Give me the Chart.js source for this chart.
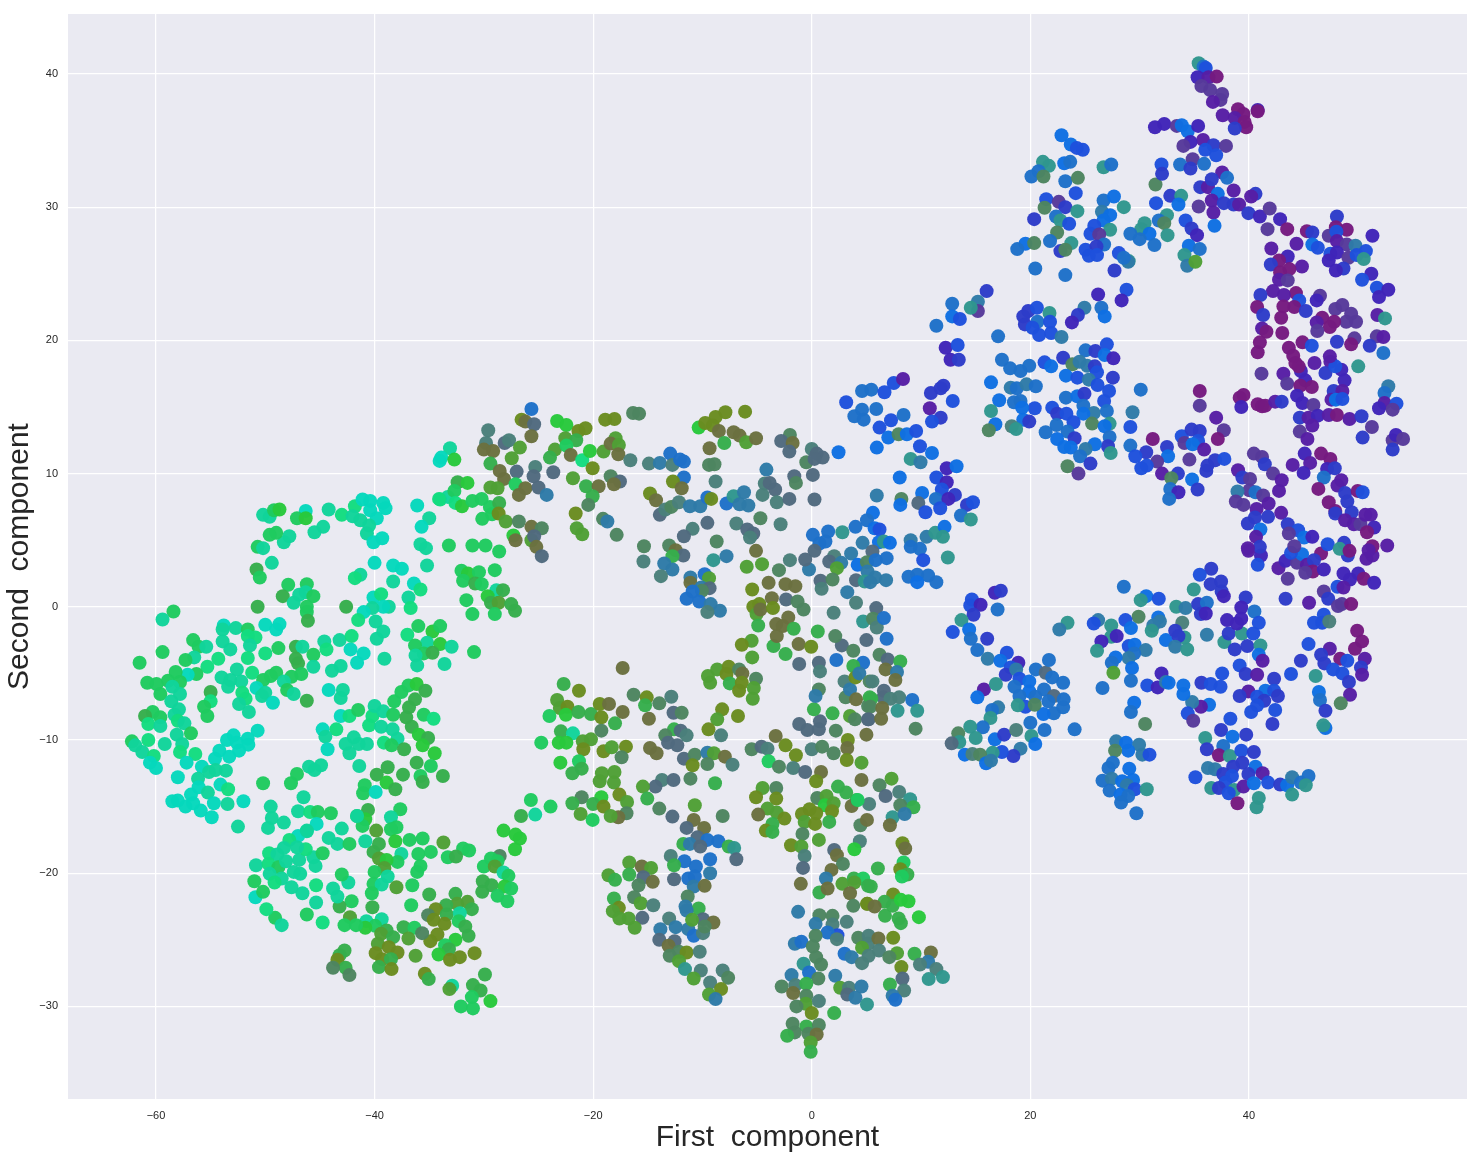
<!DOCTYPE html>
<html>
<head>
<meta charset="utf-8">
<title>t-SNE components</title>
<script src="https://cdn.jsdelivr.net/npm/chart.js@4"></script>
<style>
    html, body { margin: 0; padding: 0; background: #fff; }
    canvas { display: block; }
</style>
</head>
<body>
<canvas id="scatter" width="1481" height="1159"></canvas>
<script>
// class colours, each point below is [first, second, class]
const hues = ['#05d8bc', '#10d49a', '#12dc80', '#1fcb5f', '#28c83c', '#35ae4c', '#4f9f35', '#6a8c20', '#6b7040', '#4d8560',
    '#4a7f7a', '#506a7e', '#2e7aa8', '#0e6fe2', '#1e50dc', '#2d3cc8', '#4024b8', '#561ea5', '#751a80', '#2f968e', '#563a9a', '#1e70c8']

const xTicks = [-60, -40, -20, 0, 20, 40]
const yTicks = [-30, -20, -10, 0, 10, 20, 30, 40]

const farWest = [
    [-50.2,6.9,1],[-49.6,6.75,1],[-49.2,7.25,3],[-48.7,7.3,4],[-46.3,7.2,0],[-47.1,6.65,3],[-46.3,6.65,4],[-44.2,7.3,1],[-43,6.9,2],[-41.8,7.55,2],
    [-42,6.8,1],[-41.3,6.5,1],[-41.1,8.05,0],[-40.4,7.95,0],[-39.2,7.8,0],[-39,7.4,0],[-40.4,7.25,0],[-39.8,6.65,0],[-40.5,6.1,1],[-40.7,5.5,1],
    [-39.3,5.15,0],[-40.1,4.85,0],[-36.1,7.6,0],[-35,6.65,1],[-35.7,6,0],[-34,8.05,2],[-33.3,8.25,1],[-44.7,6,1],[-45.5,5.6,1],[-47.8,5.3,1],
    [-48.3,4.85,1],[-49,5.55,3],[-49.6,5.4,3],[-50.7,4.5,3],[-50.2,4.4,1],[-35.8,4.7,1],[-35.3,4.4,1],[-33.2,4.6,3],[-49.4,3.3,1],[-50.8,2.8,5],
    [-50.5,2.2,3],[-40,3.3,0],[-38.3,3.1,0],[-37.5,2.85,0],[-35.2,3.1,1],[-41.3,2.4,1],[-41.8,2.15,2],[-38.3,1.9,1],[-36.4,1.75,0],[-35.8,1.3,2],
    [-47.9,1.65,3],[-46.2,1.7,3],[-46.3,1.1,1],[-45.6,0.8,3],[-46.9,0.9,1],[-48.4,0.8,5],[-47.4,0.3,1],[-50.7,0,5],[-46.2,0,3],[-46.2,-0.4,3],
    [-46.1,-1.05,5],[-42.6,0,5],[-40.1,0.7,0],[-39.4,0.95,2],[-38.7,0,1],[-39.2,0,0],[-40.2,-0.1,1],[-41,-0.4,0],[-41.5,-1,2],[-39.9,-1.1,1],
    [-36.9,0.7,1],[-36.7,-0.1,2],[-58.4,-0.35,3],[-59.4,-0.95,1],[-53.8,-1.4,0],[-53.9,-1.7,1],[-52.7,-1.6,1],[-51.6,-1.7,3],[-50,-1.35,0],[-48.7,-1.3,0],
    [-49,-1.7,0],[-50.9,-2.3,2],[-51.6,-2.2,2],[-51.4,-2.9,1],[-53.9,-2.6,1],[-53.2,-3.2,1],[-56.6,-2.5,3],[-56.1,-3,3],[-55.4,-3,1],[-56.5,-3.8,1],
    [-57.3,-4,3],[-59.4,-3.4,3],[-61.5,-4.2,3],[-54.3,-3.9,2],[-55.3,-4.5,2],[-51.6,-3.85,2],[-50,-3.5,2],[-48.8,-3.1,3],[-47.2,-3,5],[-46.6,-3,1],
    [-47.2,-3.9,5],[-45.6,-3.6,3],[-47,-4.25,5],[-45.6,-4.5,1],[-44.6,-2.6,1],[-44.4,-3.2,2],[-43.2,-2.5,1],[-42.1,-2.2,2],[-42.2,-3.2,0],[-41,-3.5,0],
    [-41.6,-4.2,0],[-39.8,-2.4,1],[-39.2,-1.85,1],[-39.1,-3.9,1],[-43.1,-4.45,1],[-43.9,-4.8,1],[-37,-2.1,2],[-36,-1.45,3],[-34.7,-1.85,4],[-34,-1.45,3],
    [-35.2,-2.7,1],[-34,-2.8,4],[-36.3,-2.9,3],[-35.5,-3.5,3],[-34.7,-3.45,5],[-36.25,-3.65,1],[-36.1,-4.4,1],[-33.6,-4.3,1],[-52.6,-4.7,1],[-51.2,-4.95,2],
    [-49,-4.95,3],[-49.5,-5.2,3],[-50.2,-5.5,3],[-54,-5.3,1],[-53.2,-5.5,1],[-52.2,-5.6,1],[-53.4,-6,1],[-50.8,-6.1,0],[-50,-6.45,1],[-50.3,-6.7,1],
    [-49.3,-7.2,0],[-52.1,-6.45,2],[-51.8,-6.9,2],[-52.4,-7.3,1],[-51.5,-7.9,1],[-47.6,-5.25,3],[-46.7,-5.05,3],[-48.3,-5.6,1],[-48,-6.25,3],[-47.4,-6.55,1],
    [-46.2,-7.05,5],[-44.2,-6.25,0],[-42.9,-6.25,1],[-43.1,-6.85,1],[-56.3,-5.05,3],[-57.1,-5.1,0],[-58.2,-4.9,3],[-58.9,-5.55,3],[-57.8,-5.65,3],[-60.8,-5.7,3],
    [-59.95,-5.8,3],[-59.6,-6.55,3],[-58.5,-6,1],[-57.8,-6.55,1],[-55,-6.4,5],[-55,-7.1,2],[-58.6,-7.1,1],[-55.6,-7.5,3],[-55.3,-8.2,3],[-57.9,-7.7,1],
    [-58.3,-8.1,1],[-60.3,-7.9,3],[-61,-8.2,5],[-59.6,-8.3,3],[-60.7,-8.8,2],[-59.6,-8.95,1],[-58,-8.55,2],[-57.4,-8.75,1],[-56.8,-9.5,3],[-58.1,-9.6,1],
    [-57.6,-10.3,1],[-57.8,-10.9,2],[-59.2,-10.3,1],[-60.7,-10,2],[-62.2,-10.1,3],[-61.9,-10.4,1],[-61.25,-10.9,1],[-60.2,-11.2,2],[-60.55,-11.7,0],[-60,-12.1,0],
    [-56.4,-11.05,2],[-57.2,-11.7,0],[-55.8,-12,0],[-58,-12.8,0],[-56.15,-12.9,1],[-50.7,-9.3,0],[-52.9,-9.65,0],[-53.5,-10,0],[-52.6,-10.2,0],[-51.6,-9.9,0],
    [-51.55,-10.35,0],[-52.4,-10.8,0],[-54.2,-10.8,0],[-53.3,-11.25,0],[-54.6,-11.4,0],[-53.6,-12.3,1],[-54.55,-12.25,1],[-55.15,-12.4,1],[-56.1,-13.55,0],[-54.1,-13.35,0],
    [-53.4,-13.7,2],[-55.25,-13.95,1],[-56.8,-14.1,0],[-58.5,-14.6,0],[-58,-14.55,0],[-57.3,-15,0],[-56.6,-14.75,0],[-55.9,-15.3,0],[-54.7,-14.75,0],[-54.9,-15.8,0],
    [-53.45,-14.8,1],[-52,-14.6,0],[-52.5,-16.5,1],[-44.75,-9.2,0],[-43.5,-9.2,2],[-44.5,-9.75,1],[-44.3,-10.7,0],[-43.1,-8.2,0],[-42.3,-8.2,2],[-41.5,-7.75,3],
    [-40.5,-8.9,2],[-40.2,-8.2,2],[-40,-7.45,1],[-39.2,-7.85,1],[-38.3,-8.1,3],[-39.4,-9,1],[-38.35,-9.2,1],[-37.9,-9.9,1],[-39.15,-10.2,2],[-38.45,-10.4,3],
    [-37.3,-10.7,5],[-41.9,-9.8,1],[-42.65,-10.3,1],[-41.45,-10.3,1],[-40.7,-10.3,1],[-42.3,-11,1],[-41.4,-11.95,1],[-46,-12,1],[-44.9,-11.9,1],[-45.5,-12.25,1],
    [-47.1,-12.55,3],[-47.65,-13.25,3],[-50.2,-13.25,3],[-46.5,-14.3,1],[-49.5,-15,1],[-47,-15.35,1],[-45.9,-15.4,2],[-45.2,-15.4,3],[-44,-15.5,3],[-49.4,-15.85,1],
    [-48.3,-16.2,1],[-49.75,-16.6,1],[-45.3,-16.3,0],[-46.2,-16.85,1],[-47,-17.2,0],[-47.8,-17.5,2],[-43,-16.65,1],[-44.2,-17.35,1],[-38.2,-7.1,3],[-37.55,-6.4,3],
    [-36.9,-5.9,3],[-36.15,-5.8,4],[-35.35,-6.3,5],[-36.3,-6.95,5],[-36.85,-7.55,5],[-37.1,-8.3,5],[-36.6,-9,5],[-35.5,-8.1,3],[-34.6,-8.4,2],[-35.95,-9.6,4],
    [-35.1,-9.85,5],[-35.6,-10.4,4],[-34.5,-11,4],[-36.15,-11.7,5],[-34.85,-11.95,3],[-38.8,-12.05,5],[-39.8,-12.6,5],[-37.4,-12.6,5],[-35.8,-12.7,3],[-35.6,-13.15,5],
    [-33.75,-12.7,5],[-40.9,-13.4,3],[-38.9,-13.2,4],[-38.1,-13.7,5],[-41.05,-14,3],[-39.9,-13.9,0],[-40.6,-15.25,5],[-41.6,-15.7,3],[-40.85,-15.95,4],[-41.1,-16.45,3],
    [-37.65,-15.2,3],[-38.5,-15.8,1],[-38,-16.55,3],[-38.5,-16.7,3],[-39.85,-16.8,6]
]

const southWest = [
    [-25.7,-14.5,3],[-23.9,-15,3],[-26.6,-15.7,5],[-25.3,-15.6,1],[-28.2,-16.8,4],[-27.1,-17.1,4],[-26.7,-17.4,4],[-27.15,-18.2,4],[-31.9,-18.15,3],[-31.35,-18.3,3],
    [-33.3,-18.8,3],[-32.55,-18.75,5],[-33.7,-17.7,6],[-28.55,-18.7,9],[-29.35,-18.9,3],[-28.75,-19.1,3],[-30,-19.5,3],[-29,-19.5,6],[-28.2,-19.95,1],[-27.75,-20.2,3],
    [-30.1,-20.6,5],[-29.3,-20.9,5],[-30.15,-21.4,5],[-28.1,-21,4],[-27.5,-21.15,3],[-28.75,-21.7,3],[-27.85,-22.1,3],[-35,-21.6,5],[-32.6,-21.55,5],[-31.5,-22.15,6],
    [-32.45,-22.3,6],[-33.45,-22.4,5],[-31.1,-22.7,5],[-34.4,-22.7,7],[-35.1,-23.15,9],[-33.4,-23.1,5],[-32.2,-23,1],[-34.6,-23.5,7],[-33.6,-23.8,7],[-32.3,-23.6,3],
    [-31.7,-24,5],[-31.4,-24.7,5],[-34.25,-24.6,7],[-34.9,-25.1,7],[-32.6,-25,4],[-33.55,-25.4,3],[-33.2,-25.7,5],[-34.15,-26.1,4],[-33.1,-26.5,7],[-32.2,-26.3,7],
    [-30.85,-26,7],[-36.25,-26.2,6],[-35.4,-27.55,7],[-35.05,-27.95,5],[-29.9,-27.6,5],[-31,-28.4,5],[-30.3,-28.8,5],[-32.9,-28.45,1],[-33.15,-28.7,6],[-31.1,-29.3,3],
    [-29.4,-29.6,4],[-32.1,-30,3],[-31,-30.15,3],[-36.8,-17.5,3],[-35.6,-17.4,3],[-38.1,-17.6,4],[-39.6,-17.8,5],[-36,-18.55,3],[-34.85,-18.4,3],[-40.1,-18.4,5],
    [-37.55,-18.55,1],[-39.6,-18.9,6],[-37.9,-19.15,3],[-38.9,-19,4],[-39.1,-19.6,6],[-40,-19.9,3],[-35.8,-19.45,3],[-36.1,-19.9,3],[-38.8,-20.25,1],[-40.1,-20.8,3],
    [-39.35,-20.85,1],[-38,-21.05,6],[-36.55,-20.9,3],[-40.25,-21.5,3],[-36.65,-22.4,3],[-40.2,-22.55,5],[-39.35,-23.45,1],[-40.75,-23.6,1],[-39.95,-23.95,3],[-40.85,-24.1,4],
    [-42.25,-23.3,6],[-42.75,-23.9,3],[-41.7,-23.9,3],[-38.9,-24.3,5],[-39.4,-24.55,6],[-38.3,-24.8,5],[-37.35,-24.05,5],[-36.35,-24.1,3],[-35.65,-24.5,9],[-36.9,-24.9,6],
    [-39.7,-25.3,6],[-38.7,-25.55,7],[-37.9,-25.95,7],[-39.9,-26,7],[-39.3,-26.45,7],[-38.5,-26.45,5],[-39.6,-27.05,5],[-38.45,-27.2,7],[-42.75,-25.8,5],[-43.2,-26.15,5],
    [-43.4,-26.5,7],[-42.65,-27.1,5],[-43.8,-27.1,9],[-42.3,-27.65,9],[-42.1,-22.1,3],[-43.2,-22.5,5],[-43.4,-21.75,1],[-43.8,-21.15,1],[-42.4,-20.7,1],[-43,-20.1,3],
    [-45.35,-20.9,2],[-46.6,-21.5,1],[-47.6,-21.05,1],[-45.35,-22.2,1],[-46.2,-23.1,3],[-44.75,-23.7,2],[-49.1,-23.35,3],[-48.5,-23.9,1],[-49.9,-22.7,2],[-50.9,-21.8,0],
    [-50.2,-21.4,3],[-51,-20.6,3],[-50.85,-19.4,1],[-49.65,-18.5,2],[-48.9,-18.6,1],[-49.7,-19.3,2],[-48.8,-19.55,3],[-49.6,-20.05,1],[-48.5,-20.4,1],[-49.15,-20.7,2],
    [-48.1,-19.1,1],[-46.9,-19,1],[-47.4,-19.9,1],[-46.8,-20.05,1],[-45.6,-18.8,1],[-45.4,-19.45,1],[-44.75,-18.5,3],[-46.3,-18.2,2],[-47.1,-18.05,1],[-48.3,-18.1,1],
    [-46.2,-16.8,1],[-43.4,-17.8,1],[-42.3,-17.8,3],[-40.85,-17.6,1],[-41.6,-15.7,1]
]

const northMiddle = [
    [-33.1,11.9,1],[-33.9,11.2,0],[-34.05,10.95,0],[-32.7,11.05,4],[-29.6,13.25,10],[-29.8,12.3,10],[-30,11.8,8],[-29.15,11.7,8],[-28.1,12.3,11],[-27.7,12.5,10],
    [-26.7,11.95,6],[-27.45,11.15,6],[-29.4,10.75,5],[-28.55,10.2,8],[-28.15,9.6,8],[-27,10.15,11],[-27.1,9.2,3],[-26.2,8.9,8],[-28.75,8.9,6],[-29.4,8.95,6],
    [-26.8,8.4,8],[-25.65,14.85,21],[-26.55,14.05,7],[-26.2,13.9,8],[-25.4,13.7,11],[-25.65,12.8,8],[-25.3,10.5,10],[-25.45,9.8,11],[-25,8.95,11],[-24.25,8.4,12],
    [-23.65,10.1,11],[-23.3,13.95,4],[-22.45,13.65,4],[-20.7,13.4,7],[-21.35,13.2,7],[-22.55,12.65,6],[-21.55,12.5,5],[-23.5,11.8,6],[-22.45,12.1,3],[-23.95,11.2,5],
    [-22.05,11.4,8],[-21,11,2],[-20.3,11.7,4],[-20.05,10.4,7],[-21.85,9.65,6],[-20.65,9.05,5],[-19.5,9.05,8],[-20.05,8.3,5],[-20.45,7.65,9],[-21.6,7,7],
    [-21.5,5.9,6],[-21,5.45,6],[-18.9,14.05,7],[-18.05,14.1,7],[-16.35,14.55,9],[-15.8,14.5,9],[-19.05,11.65,6],[-17.95,12.65,6],[-18.4,12.25,8],[-17.65,12.15,6],
    [-17.7,11.45,8],[-16.6,11,10],[-18.4,9.8,9],[-17.55,9.4,11],[-18.1,9.2,8],[-19.1,6.6,9],[-18.7,6.4,12],[-17.85,5.4,9],[-14.9,10.75,10],[-13.9,10.8,12],
    [-12.95,11.5,21],[-12.75,10.65,10],[-12.05,11.05,21],[-11.7,10.9,21],[-11.7,9.7,21],[-12.7,9.4,7],[-11.9,8.9,8],[-8.8,9.4,10],[-9.35,11.9,8],[-10.35,13.45,4],
    [-9.75,13.8,7],[-8.8,14.25,7],[-9.05,13.6,7],[-8.5,13.2,8],[-7.9,14.6,7],[-6.1,14.65,7],[-7.15,13.1,8],[-6.6,12.85,8],[-8,12.3,5],[-6,12.35,6],
    [-5.1,12.65,8],[-9.4,10.65,9],[-8.9,10.7,9],[-14.8,8.5,7],[-14.25,8,8],[-13.9,6.9,11],[-13.4,7.3,10],[-12.85,7.5,9],[-12.15,7.85,10],[-11.15,7.55,12],
    [-10.2,7.55,12],[-9.55,8.2,21],[-9.2,8.1,7],[-7.8,7.75,21],[-7.15,8.3,19],[-6.2,8.6,12],[-6.6,7.7,12],[-5.8,7.6,12],[-6.9,6.25,10],[-9.55,6.3,11],
    [-10.9,5.85,10],[-11.7,5.3,11],[-5.9,5.8,11],[-5.35,5.5,11],[-5.65,5.2,10],[-8.7,4.9,9],[-15.35,4.55,9],[-15.4,3.4,10],[-13.05,4.6,9],[-12.45,4.25,8],
    [-11.75,3.85,11],[-12.75,3.8,5],[-13.5,3.25,12],[-12.75,2.8,12],[-13.8,2.3,10],[-9,3.5,19],[-7.8,3.8,12],[-5.95,3,6],[-5.1,4.2,8],[-9.8,2.45,21],
    [-11.1,2.2,12],[-9.4,2.15,6],[-11.1,1.8,8],[-10.1,1.45,12],[-9.35,1.4,11],[-10.05,1.2,9],[-10.9,1.15,21],[-11.45,0.6,21],[-10.3,0.4,21],[-9.25,0.2,12],
    [-8.4,-0.3,12],[-9.55,-0.4,10],[-5.45,1.3,7],[-5.35,0,7],[-4.8,0.2,7],[-5.05,-0.55,6],[-4.7,-0.2,8],[-4.9,-1.4,5],[-5.5,-2.55,6],[-6.4,-2.85,7],
    [-32.4,9.35,5],[-31.5,9.3,4],[-32.7,8.7,3],[-34.1,8.1,2],[-32.6,7.8,2],[-32,7.55,4],[-31.05,7.95,3],[-30.2,8.1,3],[-29.45,7.5,3],[-28.6,7.8,5],
    [-29.25,6.95,3],[-28.65,7,7],[-30.15,6.6,3],[-28,6.4,6],[-26.8,6.4,9],[-25.65,6,8],[-24.7,5.9,9],[-27.3,5.35,4],[-27.1,5,8],[-25.65,5,6],
    [-25.4,5.3,11],[-25.2,4.5,8],[-24.7,3.8,11],[-31.05,4.6,3],[-29.85,4.6,3],[-28.6,4.15,3],[-32.05,2.7,3],[-31.45,2.5,4],[-30.45,2.6,3],[-29,2.75,3],
    [-31.9,1.95,3],[-30.8,1.75,5],[-30.2,1.7,3],[-28.85,1.25,1],[-28.25,1.25,5],[-31.6,0.5,3],[-29.65,0.8,4],[-29.35,0.3,5],[-28.65,0.3,6],[-27.5,0.2,5],
    [-27.15,-0.3,5],[-31.05,-0.55,3],[-29,-0.55,3],[-32.95,-3,1],[-30.9,-3.4,3]
]

const southMiddle = [
    [-17.3,-4.6,8],[-22.7,-5.8,5],[-21.3,-6.3,7],[-23.3,-7,6],[-23.05,-7.6,6],[-22.35,-7.5,7],[-24,-8.2,3],[-22.5,-8.1,4],[-21.35,-7.9,5],[-20.2,-8.05,5],
    [-19.4,-7.3,7],[-18.55,-7.3,8],[-17.3,-7.9,8],[-19.25,-8.3,7],[-18,-8.75,5],[-19.25,-9.3,9],[-22.95,-9.35,5],[-21.85,-9.5,1],[-23.15,-10.2,4],[-22.45,-10.2,4],
    [-24.75,-10.2,3],[-20.95,-10.1,6],[-20.2,-9.95,6],[-20.9,-10.7,7],[-19.05,-10.85,7],[-18.3,-10.55,6],[-17,-10.5,7],[-17.4,-11.3,9],[-23,-11.7,4],[-21.3,-11.6,3],
    [-21.05,-12.15,5],[-21.9,-12.5,5],[-19.2,-12.5,6],[-18.05,-12.4,6],[-19.4,-13.1,6],[-18.1,-13.2,6],[-17.6,-14.1,7],[-21.05,-14.3,9],[-21.9,-14.75,5],[-19.25,-14.3,4],
    [-20,-14.8,5],[-19.05,-15,7],[-16.9,-14.65,6],[-16.95,-15.5,9],[-17.7,-15.8,8],[-18.4,-15.7,6],[-21.15,-15.55,6],[-20.05,-16,3],[-16.3,-6.6,9],[-15.1,-6.8,7],
    [-15.25,-7.4,5],[-13.95,-7.25,9],[-12.85,-6.75,10],[-12.65,-7.95,11],[-11.9,-7.95,9],[-14.9,-8.4,8],[-12.6,-9.2,5],[-12,-9.3,11],[-11.45,-9.65,10],[-13.4,-9.65,9],
    [-13.15,-10.2,11],[-12.3,-10.4,11],[-14.8,-10.6,8],[-14.2,-11,8],[-11.7,-11.4,11],[-10.7,-11.1,9],[-10.9,-11.9,7],[-9.55,-10.95,12],[-8.95,-11,6],[-7.95,-11.25,8],
    [-9.55,-11.8,9],[-7.25,-11.85,10],[-13.7,-13,10],[-12.65,-13,11],[-14.3,-13.5,11],[-15.45,-13.5,6],[-15.05,-14.4,5],[-13.95,-15.15,9],[-12.75,-15.75,11],[-11.1,-12.9,9],
    [-8.85,-13.25,5],[-10.7,-14.9,6],[-8.15,-15.7,9],[-10.8,-16,8],[-9.85,-16.6,8],[-11.45,-16.6,11],[-10.45,-17.3,11],[-9.55,-17.5,21],[-8.55,-17.6,21],[-11.75,-17.8,5],
    [-11.15,-17.8,12],[-10.2,-18,11],[-7.6,-18,5],[-7.1,-18.1,19],[-6.9,-18.95,11],[-12.9,-18.7,10],[-11.65,-19.1,21],[-12.6,-19.4,5],[-9.3,-18.95,21],[-10.6,-19.5,21],
    [-9.3,-20,12],[-11.3,-20.4,21],[-10.7,-20.25,21],[-12.6,-20.45,11],[-10.8,-21,12],[-9.8,-20.95,8],[-11.35,-21.75,9],[-11.55,-22.5,12],[-10.35,-22.65,5],[-11.45,-22.8,12],
    [-16.7,-19.2,6],[-15.55,-19.5,8],[-14.7,-19.6,6],[-18.6,-20.15,6],[-18,-20.5,5],[-16.7,-20.1,5],[-15.4,-20.3,11],[-14.55,-20.65,8],[-15.85,-20.9,9],[-18.1,-21.9,5],
    [-16.25,-21.8,9],[-15.65,-22.25,6],[-14.5,-22.4,10],[-17.65,-22.6,7],[-18.2,-22.85,6],[-16.75,-23.4,6],[-17.6,-23.4,6],[-15.5,-23.35,11],[-16.2,-24.1,6],[-13.05,-23.4,10],
    [-12.45,-24.05,12],[-13.85,-24.2,12],[-13.95,-25,11],[-11.3,-24.2,12],[-10.8,-24.7,21],[-9.95,-24.5,10],[-9.95,-23.45,11],[-10.95,-23.5,6],[-9,-23.7,8],[-9.8,-24,9],
    [-12.55,-25.1,11],[-13.1,-25.45,8],[-12.15,-25.9,9],[-11.45,-25.95,7],[-10.25,-25.9,10],[-13,-26.2,9],[-12.15,-26.6,6],[-11.6,-27.2,19],[-10.15,-27.3,10],[-8.15,-27.3,10],
    [-7.65,-27.85,9],[-10.8,-27.9,6],[-9.3,-28.2,10],[-8.3,-28.7,7],[-9.4,-29.1,6],[-8.8,-29.45,12],[-9.5,-5.2,6],[-8.65,-4.7,6],[-7.6,-4.5,7],[-9.3,-5.7,6],
    [-7.8,-5.05,7],[-7.5,-5.75,5],[-6.65,-4.7,9],[-6.35,-5,8],[-6.4,-5.7,7],[-6.65,-6.3,7],[-5.1,-5.4,9],[-5.3,-6.1,6],[-5.4,-6.9,6],[-5.45,-3.8,6],
    [-3.5,-2.95,5],[-2.4,-3.55,5],[-1.2,-2.8,8],[-0.05,-3,7],[-1.15,-4.3,11],[0.65,-4.2,11],[0.75,-4.85,10],[2.25,-4,21],[2.75,-2.9,11],[3.8,-3.3,9],
    [4.7,-4.2,21],[-8.2,-7.7,7],[-8.65,-8.45,6],[-6.75,-8.2,7],[-9.45,-9.2,7],[-8.3,-9.65,10],[-3.3,-9.7,8],[-1.15,-8.8,11],[-0.4,-9.25,11],[0.75,-8.6,11],
    [0.65,-9.2,11],[0.2,-7.7,5],[0.65,-6.2,9],[0.35,-6.7,12],[2.2,-9.3,9],[1.9,-8,5],[3.5,-8.2,6],[3.95,-8.45,9],[5.15,-8.45,11],[3.1,-6.8,9],
    [3,-5.6,10],[3.5,-6.2,12],[4.05,-6.95,8],[3.8,-4.45,5],[4,-5.3,7],[4.35,-5,12],[5.3,-5.6,9],[5.3,-6.8,5],[5.15,-7.45,9],[5,-9.6,8],
    [-5.5,-10.7,9],[-4.6,-10.5,11],[-4.05,-10.65,10],[-2.4,-10.4,7],[-1.45,-11.15,7],[-3.95,-11.6,3],[-3,-12,9],[-1.7,-12.1,10],[-0.6,-12.4,11],[0,-10.7,10],
    [0.95,-10.5,9],[2,-11,9],[3.3,-10,7],[3.25,-10.6,8],[3.2,-11.5,7],[4.55,-11.7,6],[0.85,-12.4,8],[0.4,-13.1,7],[4.55,-13,8],[2.4,-13.5,5],
    [3.15,-13.95,5],[0.5,-14.35,9],[1.35,-14.2,6],[4.1,-14.5,5],[1.2,-14.9,4],[2,-14.75,6],[3.65,-14.95,8],[5.25,-14.8,10],[-0.2,-15.2,7],[-0.9,-15.55,7],
    [0.4,-15.5,7],[1.85,-15.35,7],[-0.65,-16.15,6],[0.3,-16.3,7],[1.6,-16.15,5],[4.45,-16.4,9],[5.05,-16,8],[-4.5,-13.6,6],[-3.25,-13.6,9],[-5.1,-14.3,7],
    [-3.25,-14.4,7],[-4.05,-15.15,6],[-3.2,-15.45,6],[-4.9,-15.6,8],[-2.5,-15.9,7],[-3.6,-16.3,5],[-4.2,-16.8,7],[-3.6,-16.9,5],[-0.85,-17.05,9],[-1.9,-17.9,7],
    [-0.95,-18,6],[0.65,-17.5,6],[-0.65,-18.7,10],[-0.8,-19.6,11],[-1,-20.8,8],[2.05,-18.25,11],[2.3,-18.65,8],[2.85,-19.3,9],[4.4,-17.6,10],[3.9,-18.2,4],
    [1.8,-19.75,8],[1.3,-20.4,12],[0.7,-21.45,5],[1.45,-21.15,8],[2.8,-20.8,6],[3.85,-20.4,5],[4.7,-20.4,3],[3.9,-20.7,6],[3.5,-21.5,8],[3.8,-22.45,9],
    [5.05,-22.3,7],[5.15,-20.95,5],[-1.25,-22.9,12],[0.7,-23.15,9],[1.9,-23.2,9],[0.35,-23.8,12],[3.2,-23.65,10],[1.9,-23.85,10],[2.35,-24.65,14],[1.45,-24.45,21],
    [0.35,-24.7,9],[2.3,-24.95,10],[4.25,-24.85,9],[5.2,-24.7,10],[-1.55,-25.3,12],[-0.95,-25.15,21],[0.1,-25.5,9],[5.15,-25.3,10],[4.6,-25.6,6],[3,-26.05,21],
    [3.65,-26.3,12],[4.6,-26.75,10],[5.2,-26.2,10],[0.4,-26.3,9],[0.85,-26.85,9],[-0.75,-26.8,19],[-0.25,-27.45,21],[2.15,-27.7,12],[0.6,-27.9,9],[-1.85,-27.65,12],
    [-1.5,-28.4,10],[-0.5,-28.3,5],[-2.75,-28.5,9],[-1.7,-29,8],[2.6,-28.6,6],[3.4,-28.6,10],[4.55,-28.5,12],[3.25,-29.1,11],[4,-29.35,12],[5.05,-29.85,19],
    [-0.5,-29.2,9],[-0.55,-29.8,6],[0.65,-29.6,10],[-1.4,-30,9],[0,-30.5,7],[2.05,-30.5,5],[-1.75,-31.3,9],[-0.5,-31.5,5],[0.65,-31.4,9],[-1.55,-31.95,9],
    [-2.25,-32.2,5],[-0.3,-32.05,9],[0.45,-32.1,8],[-0.1,-32.7,6],[-0.1,-33.4,5],
    [6.2,-3.6,9],[6.95,-3.95,11],[8.1,-4.1,5],[6.75,-4.7,8],[7.8,-4.9,12],[7.65,-5.5,8],[5.55,-5.6,10],[6.6,-6.3,11],[6.55,-6.8,11],[5.45,-6.9,5],
    [7.2,-6.9,10],[8,-6.8,10],[9.2,-7,21],[5.35,-7.5,9],[6.45,-7.6,8],[7.85,-7.8,19],[9.65,-7.8,19],[5.2,-8.45,11],[6.35,-8.4,8],[9.5,-9.15,9],
    [6.2,-13.4,9],[7.3,-12.9,6],[8,-13.9,10],[6.75,-14.2,11],[9,-14.45,19],[8.1,-14.9,9],[9.3,-15.05,5],[4.2,-14.5,3],[7.4,-15.8,19],[8.5,-15.55,12],
    [7.15,-16.4,8],[8.3,-17.75,7],[8.55,-18.15,8],[6.05,-19.65,5],[8.4,-19.2,3],[8.1,-19.7,7],[8.75,-20.1,5],[8.25,-20.25,3],[5.4,-21,5],[7.45,-21.6,7],
    [6.65,-22.15,5],[7.4,-22.45,5],[8.15,-22,4],[8.85,-22.1,4],[5.1,-22.3,7],[5.75,-22.5,8],[6.7,-23.2,5],[7.95,-23.4,5],[8.15,-23.75,5],[9.8,-23.3,4],
    [6.1,-24.9,8],[7.45,-24.85,7],[6.15,-25.8,10],[7.8,-26,6],[7.1,-26.3,9],[9.4,-26.05,5],[10.9,-25.95,8],[10.65,-26.65,12],[9.9,-26.85,10],[11.4,-27.2,10],
    [8.2,-27.05,7],[12,-27.8,19],[10.7,-27.95,19],[8.3,-27.9,11],[7.15,-28.35,5],[8.45,-28.8,10],[7.4,-29.2,12],[7.65,-29.5,21]
]

const centreNorth = [
    [3.15,15.35,14],[4.6,16.2,21],[5.45,16.3,21],[6.65,16.1,14],[7.5,16.8,14],[8.35,17.1,17],[10.9,16.05,15],[11.8,16.4,15],[12.05,16.6,15],[12.9,15.45,14],
    [16.4,16.85,13],[17.15,15.5,13],[16.4,14.7,19],[16.8,13.7,13],[16.2,13.25,9],[10.8,14.9,17],[11.8,14.2,15],[11,13.9,14],[3.9,14.3,21],[4.6,14.8,21],
    [4.75,14.05,21],[5.9,14.85,21],[7.25,14,14],[8.4,14.4,21],[6.2,13.45,14],[7,12.7,13],[5.95,11.95,13],[7.95,12.95,9],[8.7,12.95,13],[9.55,13.2,14],
    [9.9,12.05,14],[11,11.55,13],[9.05,11.1,19],[9.95,10.85,12],[12.35,10.4,16],[13.25,10.55,13],[11.4,9.7,14],[12.35,9.35,16],[11.9,8.8,14],[13.1,8.4,15],
    [11.35,8.1,21],[12.5,8.1,16],[11.75,7.4,14],[10.1,8.55,13],[8.05,9.7,13],[8.2,8.1,9],[8.1,7.65,13],[9.75,7.8,11],[10.4,7.1,14],[14.2,7.65,15],
    [14.75,7.85,14],[13.65,6.85,21],[14.55,6.55,19],[5.95,8.35,12],[5.6,7.05,13],[5.05,6.5,21],[5.75,5.9,13],[6.2,5.8,14],[4,6,21],[2.8,5.6,19],
    [1.5,5.65,21],[0.1,5.4,21],[0.7,4.75,21],[1.25,4.9,21],[0.25,4.2,11],[4.65,4.8,12],[6.15,4.85,13],[6.6,4.9,19],[7.15,4.8,13],[9.05,5,12],
    [9.05,4.5,21],[10.5,5.25,12],[11.3,5.55,19],[12.15,6,13],[12,5.25,19],[9.9,4.35,21],[10.2,3.5,14],[12.45,3.7,19],[2.05,3.8,10],[3.6,4,12],
    [5.55,4.15,11],[1.6,3.4,11],[2.7,3.3,12],[2.3,2.9,6],[4.2,3.15,13],[5.05,3.35,9],[5.85,3.5,21],[6.85,3.65,21],[5.1,2.65,12],[5.8,2.2,12],
    [6.8,2,12],[4.05,2,11],[4.85,1.9,19],[5.35,1.85,12],[8.85,2.25,21],[9.65,2.4,21],[10.65,2.35,21],[9.65,1.85,13],[11.4,1.85,21],[3.25,1.1,12],
    [4.05,0.3,10],[0.8,1.95,11],[1.9,2.05,9],[0.9,1.35,10],[-0.25,2.8,12],[-0.6,3.55,11],[-2,3.5,10],[-3,2.75,9],[-4.55,3.2,6],[-3.95,1.8,8],
    [-2.4,1.7,8],[-1.5,1.55,8],[-3.65,0.65,8],[-2.35,0.55,11],[-1.3,0.4,9],[-0.75,-0.2,9],[-3.55,-0.1,7],[-2.15,-0.8,8],[-3.25,-1.3,8],[-2.65,-1.45,8],
    [-1.65,-1.65,5],[0.55,-1.85,5],[2.15,-2.2,9],[-3.2,-2.2,8],[2,-0.45,10],[5.9,-0.1,11],[4.7,-1.1,19],[5.6,-0.9,9],[5.95,-1.55,10],[6.6,-0.85,21],
    [6.85,-2.4,21],[5,-2.5,11],[-2,12.9,9],[-2.8,12.45,11],[-1.75,12.3,8],[-2.05,11.65,11],[0,11.85,10],[-0.5,10.85,9],[0.45,11.5,11],[1,11.2,11],
    [0.25,11.1,11],[2.45,11.6,13],[-4.15,10.3,12],[-1.6,9.8,11],[-1.45,9.3,9],[0.1,9.9,11],[-4.3,9.25,10],[-3.85,9.3,11],[-3.35,8.8,11],[-4.5,8.4,10],
    [-3.2,7.85,10],[-2.05,8.1,11],[0.25,8.05,11],[-4.7,6.65,9],[-2.85,6.2,10]
]

const eastLobes = [
    [16.75,1.05,16],[17.3,1.2,15],[14.65,0.55,14],[14.5,0.1,14],[15.45,0.15,16],[14.8,-0.6,15],[17,-0.2,21],[13.7,-1,19],[12.9,-1.9,14],[14.4,-1.7,13],
    [14.55,-2.4,21],[16.05,-2.4,15],[15.15,-3.25,21],[16.1,-3.9,12],[17.85,-3.45,14],[17.25,-4.05,13],[18.9,-4.2,16],[18.2,-4.55,14],[17.75,-5.1,15],[18.7,-4.7,12],
    [19,-5.4,14],[19.9,-5.6,13],[18.55,-6,21],[20.5,-4.7,21],[21.4,-4.95,11],[21.7,-4,21],[22,-5.3,21],[23,-5.7,21],[21.25,-6.2,21],[19.9,-6.35,13],
    [19,-6.7,21],[20.45,-6.75,21],[22.15,-6.7,11],[21.65,-7.1,21],[23.05,-6.95,21],[23,-7.55,21],[22.15,-8,21],[21.2,-8.05,13],[19.55,-7.5,14],[20.4,-7.35,9],
    [18.85,-7.4,19],[15.75,-6.2,17],[16.85,-5.8,19],[15.15,-6.8,13],[17.05,-7.55,12],[16.5,-7.75,21],[16.35,-8.35,19],[15.65,-9.05,21],[14.5,-9,19],[13.4,-9.5,9],
    [15,-9.85,19],[13.5,-10.15,19],[12.8,-10.25,11],[16.75,-9.95,13],[17.6,-9.6,15],[18.7,-9.25,10],[20,-8.7,21],[21.3,-9.25,21],[20.1,-9.7,19],[20.45,-10.3,13],
    [19.1,-10.65,12],[24.05,-9.2,21],[18.45,-11.2,15],[17.4,-10.9,14],[16.55,-10.95,19],[14,-11.1,13],[14.7,-11.05,10],[15.4,-11.1,9],[15.95,-11.75,13],[16.4,-11.55,12],
    [23.4,-1.2,19],[22.65,-1.7,12],[28.55,1.5,21],[30.6,0.8,13],[30.1,0.5,19],[31.75,0.6,14],[29.9,-0.75,9],[26.2,-1,12],[25.8,-1.25,14],[27.4,-1.4,19],
    [28.7,-1,14],[29.2,-1.6,13],[31.7,-0.8,13],[31.85,-1.1,12],[31.25,-1.4,12],[31.1,-1.8,19],[27.4,-2.25,19],[27.9,-2.2,16],[26.5,-2.6,16],[32.4,-2.5,13],
    [29,-2.95,14],[29.55,-2.85,13],[30.55,-3.25,12],[29.5,-3.5,21],[29,-3.85,12],[26.1,-3.3,19],[27.8,-3.8,13],[27.45,-4.2,21],[29.3,-4.6,13],[27.6,-4.95,6],
    [29.2,-5.55,21],[26.6,-6.1,21],[30.7,-5.9,14],[31.65,-6.05,16],[32,-5,16],[32.4,-5.65,12],[29.5,-7.2,13],[29.2,-7.9,21],[30.5,-8.8,9],[27.85,-10.1,12],
    [28.75,-10.2,13],[29.95,-10.35,12],[28.95,-10.8,13],[27.75,-10.8,9],[30.25,-11.1,12],[30.9,-11.1,14],[27.55,-11.7,21],[27.15,-12.1,21],[29.05,-12.15,13],[26.6,-13.05,21],
    [27.45,-12.9,12],[28.4,-13.1,13],[29.4,-13,13],[27.25,-13.8,21],[28.85,-13.4,12],[29.55,-13.7,14],[30.65,-13.7,19],[28.25,-14.1,13],[28.95,-14.2,21],[28.3,-14.7,21],
    [29.7,-15.5,21],
    [39.95,4.2,17],[41.1,3.85,16],[40.8,3.15,14],[42.7,2.9,17],[43.35,3.45,16],[44.4,3.3,20],[44.85,3.95,13],[43.85,4.05,14],[46.6,4,18],[49.05,3.85,15],
    [50.75,3.6,17],[51.3,3.85,17],[45.3,3.15,17],[45.95,3.5,15],[45.85,2.65,18],[45.15,2.55,20],[46.85,2.8,16],[48.65,2.5,16],[50,2.5,16],[50.5,2.1,18],
    [49.25,2.05,16],[51.45,1.8,16],[43.55,2.1,20],[48.1,1.5,14],[48.65,1.45,17],[46.85,1.15,20],[47.25,0.6,15],[43.35,0.6,15],[45.5,0.3,17],[48.15,0.05,20],
    [48.5,0.2,20],[49.35,0.2,18],[46.85,-0.6,14],[45.95,-1.2,14],[46.7,-1.2,14],[47.35,-1.1,10],[49.9,-1.8,18],[50.35,-2.6,18],[49.7,-3.15,18],[45.45,-2.8,14],
    [47.4,-3.15,17],[46.6,-3.6,15],[44.75,-4.05,15],[48.35,-3.9,18],[49,-4.05,14],[50.6,-3.9,17],[46.9,-4.25,15],[50.25,-4.55,15],[47.7,-4.7,14],[43.85,-5.05,14],
    [48.55,-5,14],[50.35,-5.1,17],[46.1,-5.2,19],[49.15,-5.65,15],[49.25,-6.6,17],[46.4,-6.4,13],[46.5,-7,21],[48.4,-7.25,9],[47,-7.8,15],[47,-9.1,13],
    [46.8,-8.9,19],[36.55,2.85,15],[35.5,2.4,14],[36.5,1.7,15],[37.45,1.9,15],[37.5,1.15,15],[37.7,0.8,16],[34.95,1.3,19],[33.35,0,19],[34.2,-0.1,12],
    [35.35,0.2,15],[36.15,0.3,21],[35.6,-0.55,15],[36.05,-0.5,16],[33.9,-1.2,10],[33.25,-1.8,15],[34.1,-2.3,19],[33.55,-2.2,15],[33.25,-3,12],[34.35,-3.2,19],
    [36.15,-2.1,12],[37.75,-2.65,19],[38.15,-2,15],[39.35,-2,19],[39.7,0.7,15],[39.3,-0.05,16],[38,-1,16],[39.3,-0.9,16],[38.9,-1.25,16],[40.5,-0.35,21],
    [40.9,-1.2,14],[40.4,-2,14],[39.85,-2.95,15],[38.7,-3.2,15],[41.05,-2.9,19],[40.9,-3.6,13],[41.25,-4.05,17],[39.15,-4.4,14],[39.7,-5.05,15],[40.75,-5.1,17],
    [37.55,-5,14],[42.3,-5.4,15],[35.65,-5.7,15],[36.5,-5.8,14],[37.4,-6,14],[39.95,-6.35,17],[39.15,-6.7,15],[41.5,-6.3,13],[42.3,-6.3,14],[42.65,-6.7,15],
    [40.75,-6.75,14],[41.4,-7.05,15],[40.75,-7.4,14],[42.4,-7.75,14],[40.2,-7.9,14],[36.35,-7.35,13],[35.6,-7.5,17],[34.8,-7.15,12],[34.4,-8,14],[34.9,-8.55,20],
    [38.3,-8.4,14],[42.15,-8.8,15],[37.45,-9.25,15],[38.5,-9.75,13],[39.75,-9.6,15],[36,-9.85,19],[37.65,-10.45,21],[36.15,-10.7,15],[37.25,-11.15,18],[38.25,-11.2,19],
    [39.3,-10.8,14],[40.45,-10.9,15],[39.4,-11.7,15],[38.55,-12,15],[36.25,-12.1,12],[36.9,-12.2,12],[37.65,-12.55,15],[38.45,-12.7,14],[40.6,-12,13],[39.95,-12.55,15],
    [41.25,-12.5,17],[35.1,-12.8,14],[37.85,-13.2,14],[36.55,-13.6,19],[37.25,-13.6,15],[38.65,-13.75,19],[38.15,-14,14],[39.5,-13.5,17],[40.45,-13.25,13],[41.75,-13.2,14],
    [42.85,-13.35,15],[43.5,-13.4,13],[43.95,-12.8,12],[44.75,-13.2,21],[45.45,-12.7,21],[45.2,-13.4,19],[43.95,-14.1,19],[40.9,-14.35,19],[40.7,-15.05,19],[38.95,-14.75,18],
    [34,-5.9,13],[34,-6.55,13],[32.65,-5.7,13],
    [30.1,16.3,21],[29.35,14.6,12],[29.15,13.5,14],[29.15,12.1,21],[35.5,16.2,18],[35.5,15.1,20],[37,14.2,17],[37.7,13.25,20],[37.15,12.6,18],[31.2,12.6,18],
    [33.85,12.8,14],[34.75,13.3,15],[35.5,13.2,15],[34.1,12.3,20],[35.35,12.45,14],[34.85,12.2,13],[32.5,12,15],[35.9,11.8,17],[30.6,11.6,15],[29.6,11.3,14],
    [32.6,11.3,13],[31.6,10.9,20],[34.55,11.05,20],[30.15,10.4,14],[30.65,10.6,14],[36.2,10.6,15],[36.9,11,15],[37.75,11.1,14],[36.1,10.2,15],[32.05,10,17],
    [33.5,10,15],[32.9,9.65,9],[34.8,9.55,13],[32.8,8.85,21],[33.55,8.6,16],[32.7,8.1,21],[35.3,8.8,15],[41.15,17.5,20],[43.15,17.5,17],[43.5,16.75,20],
    [44.75,17.7,16],[44.25,18.3,18],[44.55,18.05,18],[46,18.3,17],[47.45,18.4,17],[48.45,17.8,16],[47,17.55,15],[47.9,18.05,14],[50,18.05,19],[45.15,17,16],
    [48.75,17,16],[44.7,16.6,18],[45.75,16.5,18],[47.75,16.2,15],[48.55,16.2,17],[44.4,15.85,16],[44.9,15.3,16],[47.55,15.55,17],[47.95,15.55,13],[48.55,15.6,14],
    [45.9,15.15,20],[39.5,15.9,18],[39.15,15.7,18],[39.3,15,16],[40.8,15.2,18],[41.2,15.05,18],[41.5,15.1,18],[42.4,15.4,17],[43,15.4,15],[52.75,16.55,12],
    [52.4,16.05,21],[52.4,15.3,17],[53.5,15.25,14],[51.9,14.9,16],[53.15,14.8,20],[44.65,14.2,15],[45.45,14.2,17],[46.3,14.35,16],[47.3,14.4,17],[48.05,14.4,18],
    [49.2,14.1,17],[50.3,14.3,15],[51.25,13.5,20],[50.4,12.7,15],[45.8,13.6,17],[44.65,13.15,20],[45.35,12.6,17],[53.15,12.5,20],[53.45,12.9,16],[54.1,12.6,20],
    [53.15,11.8,15],[45.1,11.5,16],[46.6,11.5,18],[47.45,11.1,18],[45.6,10.8,17],[44,10.65,17],[45,10.05,16],[47.15,10.35,16],[47.85,10.4,15],[40.45,11.5,20],
    [41.2,11.25,20],[41.45,10.7,15],[42.2,10,20],[43,9.5,17],[39,10.25,17],[39.4,9.7,15],[40.1,9.6,20],[40.05,8.75,20],[40.6,8.6,21],[38.95,8.65,12],
    [42.75,8.7,17],[41.3,8.35,20],[41.8,7.75,17],[38.8,7.9,20],[39.5,7.65,20],[40.7,7.35,17],[42.95,7.05,17],[40.55,6.7,15],[41.75,6.75,15],[39.9,6.25,15],
    [41.05,5.8,13],[40.65,5.25,17],[41,4.5,15],[39.9,4.4,17],[46.85,9.7,21],[48.45,9.5,17],[48.1,9.1,17],[46.35,8.85,18],[48.8,8.55,15],[49.95,8.7,18],
    [50.4,8.6,14],[49,7.9,15],[47.3,7.85,18],[47.9,7.2,18],[47.9,7,15],[49.4,7.1,15],[48.8,6.5,17],[49.6,6.2,17],[50.2,6.2,20],[50.65,6.9,17],
    [51.15,6.9,17],[51.45,5.95,16],[50.8,5.6,18],[43.55,6.2,15],[44.5,5.75,14],[43.65,5.5,20],[45.05,5.2,13],[45.8,5.25,16],[47.2,4.7,14],[48.7,4.8,15],
    [48.3,4.35,19],[49.2,4.2,18],[44.15,4.55,20],[51.3,4.55,18],[52.65,4.6,17],[50.95,4.25,17]
]

const northEast = [
    [31.45,31.7,9],[32.8,30.85,15],[33.8,30.85,19],[31.5,30.3,14],[33.55,30.2,13],[35.55,31.5,15],[36.25,31.5,17],[37.15,31,13],[38.6,31.25,17],[40.6,31,15],
    [40.2,30.8,17],[35.4,30.05,20],[36.6,30.5,17],[37.7,30.3,15],[38.6,30.2,15],[39.1,30.2,17],[36.75,29.6,17],[39.95,29.55,15],[41,29.3,16],[41.9,29.9,20],
    [42.85,29.1,16],[41.7,28.35,20],[43.5,28.35,18],[36.85,28.6,13],[32.5,29.4,19],[31.75,29,21],[30.45,28.8,19],[32.25,28.8,9],[30.15,28.35,19],[30.9,28,13],
    [29.15,28,21],[30,27.6,21],[32.55,27.9,19],[31.35,27.15,21],[34.2,29,14],[34.75,28.4,15],[35.25,27.9,16],[34.5,27.1,13],[35.5,26.85,21],[34.1,26.4,19],
    [34.35,25.6,12],[35.1,25.9,6],[29,25.95,19],[45.3,28.2,18],[45.8,28.1,15],[44.35,27.25,17],[45.8,27.2,13],[46.3,26.95,14],[42.05,26.9,17],[48.05,29.3,15],
    [47.95,28.5,18],[48.95,28.3,18],[47.3,27.85,20],[48,28.15,14],[48.05,27.45,17],[48.95,27.2,20],[49.75,27.1,12],[51.3,27.85,16],[50.7,26.7,14],[47.45,26.5,14],
    [48.05,26.6,16],[47.3,26,16],[49.1,26.2,20],[49.85,26.4,14],[50.5,26.1,19],[48.65,25.4,15],[47.95,25.25,16],[43.55,26.3,16],[42.75,26,18],[42,25.7,15],
    [44.85,25.55,17],[43.7,25.35,18],[42.85,25.1,18],[42.75,24.55,17],[43.55,24.5,20],[51.2,25,16],[50.35,24.55,14],[51.7,23.95,14],[52.75,23.8,16],[51.9,23.25,16],
    [42.2,23.7,17],[44.3,23.55,18],[43.2,23.4,17],[41.05,23.4,15],[46.5,23.35,20],[46.2,23,16],[44.6,23,14],[40.75,22.5,18],[43.15,22.55,18],[44.15,22.5,18],
    [45.2,22.2,15],[41.3,21.9,15],[42.95,21.7,18],[47.9,22.35,20],[48.55,22.65,20],[49.35,22,20],[49.8,21.4,20],[48.9,21.4,20],[51.75,21.9,17],[52.45,21.65,19],
    [46.7,21.7,18],[46.2,21.35,17],[47.8,21.4,18],[47.4,21,18],[46.25,20.7,20],[41.2,20.9,17],[41.6,20.65,18],[43.05,20.55,18],[41,19.85,18],[40.8,19.1,18],
    [44.9,19.85,18],[45.75,19.6,14],[48.05,19.9,15],[49.65,20.15,20],[49.35,19.7,18],[51.7,20.3,20],[52.3,20.25,17],[51.05,19.6,15],[52.3,19.05,21],[43.65,19.45,18],
    [44.05,18.85,18],[47.4,18.8,17],
    [35.4,40.8,19],[35.85,40.55,21],[36.05,40.45,14],[35.3,39.75,16],[36.3,39.75,17],[37.05,39.8,18],[35.65,39.1,20],[36.45,38.8,20],[37.55,38.5,20],[37.4,38.05,20],
    [36.7,37.9,17],[37.6,36.9,17],[39,37.35,18],[39.5,37,18],[40.8,37.3,16],[40.8,37.2,18],[38.7,36.7,17],[39.6,36.4,18],[39.75,36,18],[38.7,35.9,15],
    [31.4,36,16],[32.25,36.25,16],[33.4,36.1,20],[33.85,36.15,13],[34.4,35.7,13],[35.35,36.1,16],[35.8,35.05,17],[34.65,34.9,16],[34,34.6,20],[36.75,34.65,15],
    [37.9,34.6,20],[36,34.3,14],[37,33.9,14],[34.85,33.6,20],[32,33.2,14],[33.7,33.2,21],[35.9,33.25,21],[34.65,32.9,15],[37.55,32.6,17],[32.05,32.5,15],
    [36.6,32.1,15],[38,32.2,21],
    [22.85,35.4,13],[23.7,34.7,13],[24.25,34.45,14],[24.8,34.3,14],[21.15,33.4,19],[21.7,33.1,19],[23.1,33.3,13],[23.65,33.4,21],[20.75,32.7,21],[20.1,32.3,21],
    [21.2,32.3,9],[23.2,31.95,21],[24.35,32.2,9],[26.7,33,19],[27.4,33.2,21],[24.15,31.05,14],[21.45,30.6,14],[22.6,30.4,20],[23.2,30,15],[21.3,29.95,9],
    [26.7,30.5,21],[27.65,30.8,13],[24.3,29.7,19],[28.55,30,19],[20.35,29.1,15],[22.35,29.3,21],[22.75,29,19],[23.55,28.75,14],[26.55,29.65,12],[27.3,29.4,13],
    [26.7,29,13],[25.85,28.6,14],[27.3,28.3,19],[25.5,28,14],[26.3,27.95,20],[22.45,28.1,9],[21.8,27.45,21],[19.55,27.25,13],[20.35,27.3,9],[18.8,26.85,21],
    [23.75,27.3,19],[22.75,26.7,15],[23.2,26.8,9],[26.75,27.2,21],[25.05,26.8,14],[26.05,27.05,15],[25.35,26.35,14],[26.1,26.4,14],[28.1,26.55,14],[28.95,25.9,12],
    [28.55,26.2,21],[20.45,25.4,21],[23.2,24.9,21],[27.7,25.25,15]
]

const midEast = [
    [16,23.7,15],[15.2,22.9,12],[15.2,22.2,20],[14.55,22.45,19],[12.85,22.75,21],[12.85,21.8,13],[13.55,21.6,14],[11.4,21.1,21],[17.05,20.3,21],[19.8,22.2,15],
    [20.6,22.45,14],[19.35,21.8,15],[21.75,22.05,19],[20.65,21.4,21],[19.5,21.2,15],[20.2,20.95,14],[21.8,21.4,14],[20.8,20.4,14],[21.9,20.55,14],[22.85,20.25,12],
    [24.95,22.45,12],[24.35,21.9,15],[23.8,21.35,16],[26.2,23.45,16],[26.5,22.45,21],[26.8,21.8,13],[28.8,23.8,14],[28.35,23,16],[25.05,19.25,21],[25.95,19.2,15],
    [27,19.7,14],[26.8,18.9,13],[27.6,18.65,16],[23,18.7,15],[21.3,18.35,14],[21.9,18.05,13],[23.85,18.2,9],[24.5,18.4,12],[25.2,18.1,12],[25.9,18.05,15],
    [26.1,17.6,14],[17.4,18.55,21],[18.15,17.9,21],[19.1,17.7,21],[19.9,18.1,21],[23.25,17.35,13],[24.3,17.2,14],[25.35,17.05,12],[27.55,17.2,15],[26.15,16.65,14],
    [18.2,16.45,12],[18.75,16.4,21],[19.65,16.7,12],[20.5,16.55,21],[27.2,16.2,14],[23.25,15.7,21],[24.3,15.8,13],[24.95,16,15],[19.1,15.45,21],[18.5,15.35,21],
    [26.75,15.45,14],[24.85,15.1,21],[22,14.95,14],[20.4,14.9,14],[19.25,14.95,13],[22.45,14.5,15],[23.3,14.5,14],[25.8,14.55,12],[27,14.7,21],[24.85,14.5,13],
    [19.35,14.05,13],[19.9,13.9,15],[23.95,13.85,14],[18.3,13.55,10],[18.7,13.35,19],[22.4,13.65,21],[25.65,13.75,9],[27.25,13.75,19],[26.8,13.55,13],[23.4,13.15,21],
    [21.4,13.1,21],[24.05,12.65,15],[27.25,12.75,21],[22.45,12.6,13],[27.1,12.05,15],[25.9,12.2,13],[23.1,12,13],[23.7,11.95,13],[25.05,11.85,12],[27.35,11.55,19],
    [24.55,11.3,21],[25.5,10.75,15],[23.4,10.55,9],[24.4,10,20],[12.25,19.45,16],[13.35,19.65,14],[12.7,18.55,16],[13.45,18.55,15]
]

const pointClouds = [farWest, southWest, northMiddle, southMiddle, centreNorth, eastLobes, northEast, midEast]
const allPoints = pointClouds.flat()

const plotBackground = {
    id: 'plotBackground',
    beforeDraw(chart) {
        const { ctx, chartArea } = chart
        ctx.save()
        ctx.fillStyle = '#eaeaf2'
        ctx.fillRect(chartArea.left, chartArea.top, chartArea.width, chartArea.height)
        ctx.restore()
    }
}

function axisOptions(min, max, tickValues, titleText, titlePadding, fit) {
    return {
        type: 'linear',
        min: min,
        max: max,
        afterBuildTicks: function (axis) {
            axis.ticks = tickValues.map(function (value) { return { value: value } })
        },
        afterFit: fit,
        border: { display: false },
        grid: { color: '#ffffff', lineWidth: 1.25, drawTicks: false },
        ticks: {
            autoSkip: false,
            maxRotation: 0,
            padding: 10,
            color: '#262626',
            font: { family: '"Liberation Sans"', size: 11 },
            callback: function (value) { return String(value).replace('-', '\u2212') }
        },
        title: {
            display: true,
            text: titleText,
            color: '#262626',
            padding: titlePadding,
            font: { family: '"Liberation Sans"', size: 30, lineHeight: 1.2 }
        }
    }
}

new Chart(document.getElementById('scatter'), {
    type: 'scatter',
    data: {
        datasets: [{
            data: allPoints.map(function (p) { return { x: p[0], y: p[1] } }),
            backgroundColor: allPoints.map(function (p) { return hues[p[2]] + 'f8' }),
            borderWidth: 0,
            pointRadius: 7,
            pointHoverRadius: 7
        }]
    },
    options: {
        responsive: false,
        animation: false,
        events: [],
        layout: { padding: { top: 14, right: 14 } },
        plugins: { legend: { display: false }, tooltip: { enabled: false } },
        scales: {
            x: axisOptions(-68.05, 59.95, xTicks, 'First  component', { top: 0, bottom: 3 },
                function (axis) { axis.height = 60; axis.paddingLeft = 0; axis.paddingRight = 0 }),
            y: axisOptions(-36.95, 44.5, yTicks, 'Second  component', { top: 2, bottom: 0 },
                function (axis) { axis.width = 68; axis.paddingTop = 0; axis.paddingBottom = 0 })
        }
    },
    plugins: [plotBackground]
});
</script>
</body>
</html>
